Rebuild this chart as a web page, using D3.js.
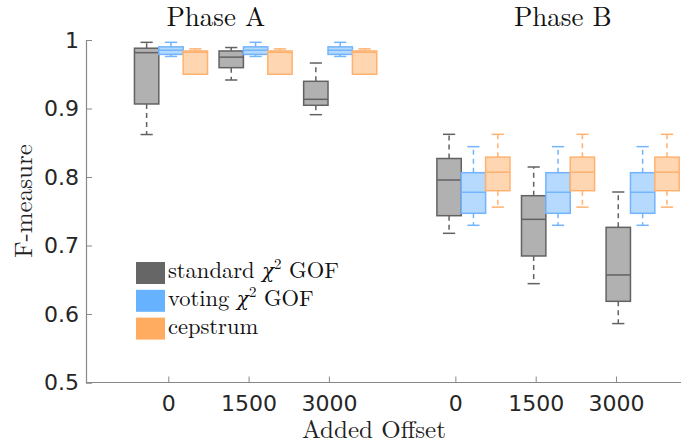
<!DOCTYPE html>
<html>
<head>
<meta charset="utf-8">
<script src="https://cdn.jsdelivr.net/npm/d3@7"></script>
<style>
  body { margin: 0; background: #fff; }
</style>
</head>
<body>
<script>
// five-number summaries: [lower whisker, q1, median, q3, upper whisker]
const phases = ['Phase A', 'Phase B'];
const offsets = ['0', '1500', '3000'];
const groupPos = [1, 2, 3, 4.575, 5.575, 6.575];
const methods = ['standard', 'voting', 'cepstrum'];
const standardStats = [
	[0.862, 0.9066, 0.9815, 0.988, 0.9966],
	[0.9416, 0.9596, 0.975, 0.984, 0.989],
	[0.891, 0.9047, 0.9134, 0.9397, 0.9664],
	[0.7178, 0.7435, 0.7956, 0.827, 0.8623],
	[0.6443, 0.6847, 0.7382, 0.7727, 0.8146],
	[0.586, 0.6185, 0.657, 0.7265, 0.7781]
];
const votingStats = [
	[0.976, 0.979, 0.985, 0.99, 0.9966],
	[0.976, 0.979, 0.985, 0.99, 0.9966],
	[0.976, 0.979, 0.985, 0.99, 0.9966],
	[0.7295, 0.747, 0.7777, 0.8063, 0.8443],
	[0.7295, 0.747, 0.7777, 0.8063, 0.8443],
	[0.7295, 0.747, 0.7777, 0.8063, 0.8443]
];
const cepstrumStats = [
	[0.95, 0.95, 0.982, 0.984, 0.987],
	[0.95, 0.95, 0.982, 0.984, 0.987],
	[0.95, 0.95, 0.982, 0.984, 0.987],
	[0.756, 0.78, 0.807, 0.829, 0.8623],
	[0.756, 0.78, 0.807, 0.829, 0.8623],
	[0.756, 0.78, 0.807, 0.829, 0.8623]
];
const yTicks = [0.5, 0.6, 0.7, 0.8, 0.9, 1];

const width = 681;
const height = 443;
const serif = 'Latin Modern Roman';
const sans = 'DejaVu Sans';

const colors = {
	standard: { fill: '#b1b1b1', stroke: '#626262', legend: '#666666' },
	voting: { fill: '#b6d9fe', stroke: '#72b4fd', legend: '#66b2ff' },
	cepstrum: { fill: '#ffd6b2', stroke: '#ffb26f', legend: '#ffab60' }
};
const legendLabels = {
	standard: ['standard ', 'χ', '2', ' GOF'],
	voting: ['voting ', 'χ', '2', ' GOF'],
	cepstrum: ['cepstrum']
};

const svg = d3.select('body').append('svg').attr('width', width).attr('height', height);

const yScale = d3.scaleLinear().domain([0.5, 1]).range([382.5, 40]);
const xScale = d3.scaleLinear().domain([0, 7]).range([86.4, 678.6]);
const tickScale = d3.scaleLinear().domain([0, 7]).range([88, 650.1]);
const boxW = xScale(0.288) - xScale(0);

// axes
const yAxis = d3.axisLeft(yScale).tickValues(yTicks).tickFormat((d) => d3.format('')(d)).tickSize(-6).tickPadding(7);
const gy = svg.append('g').attr('transform', 'translate(86,0)').call(yAxis)
	.attr('font-family', sans).attr('font-size', 22);
gy.select('.domain').attr('stroke', '#888').attr('stroke-width', 1.2);
gy.selectAll('.tick line').attr('stroke', '#888');
gy.selectAll('.tick text').attr('fill', '#262626');

const xAxis = d3.axisBottom(tickScale).tickValues(groupPos)
	.tickFormat((d, i) => offsets[i % 3]).tickSize(-6).tickPadding(13);
const gx = svg.append('g').attr('transform', 'translate(0,382.5)').call(xAxis)
	.attr('font-family', sans).attr('font-size', 22);
gx.select('.domain').attr('d', `M86,0H${width}`).attr('stroke', '#888').attr('stroke-width', 1.2);
gx.selectAll('.tick line').attr('stroke', '#888');
gx.selectAll('.tick text').attr('fill', '#262626');

// boxes
const allStats = { standard: standardStats, voting: votingStats, cepstrum: cepstrumStats };
methods.forEach((m, mi) => {
	const g = svg.append('g').attr('class', 'boxes-' + m);
	const c = colors[m];
	allStats[m].forEach((s, gi) => {
		const cx = xScale(groupPos[gi]) + (mi - 1) * boxW;
		const [lo, q1, med, q3, hi] = s;
		const capW = boxW * 0.5;
		// whiskers
		g.append('line').attr('x1', cx).attr('x2', cx).attr('y1', yScale(q3)).attr('y2', yScale(hi))
			.attr('stroke', c.stroke).attr('stroke-width', 1.5).attr('stroke-dasharray', '5,4');
		g.append('line').attr('x1', cx).attr('x2', cx).attr('y1', yScale(q1)).attr('y2', yScale(lo))
			.attr('stroke', c.stroke).attr('stroke-width', 1.5).attr('stroke-dasharray', '5,4');
		[lo, hi].forEach((v) => {
			g.append('line').attr('x1', cx - capW / 2).attr('x2', cx + capW / 2)
				.attr('y1', yScale(v)).attr('y2', yScale(v))
				.attr('stroke', c.stroke).attr('stroke-width', 1.5);
		});
		g.append('rect').attr('x', cx - boxW / 2).attr('y', yScale(q3))
			.attr('width', boxW).attr('height', yScale(q1) - yScale(q3))
			.attr('fill', c.fill).attr('stroke', c.stroke).attr('stroke-width', 1.5);
		g.append('line').attr('x1', cx - boxW / 2).attr('x2', cx + boxW / 2)
			.attr('y1', yScale(med)).attr('y2', yScale(med))
			.attr('stroke', c.stroke).attr('stroke-width', 1.5);
	});
});

// phase titles
svg.selectAll('.phase').data(phases).enter().append('text')
	.attr('x', (d, i) => xScale(i === 0 ? 1.53 : 5.63))
	.attr('y', 26)
	.attr('text-anchor', 'middle')
	.attr('font-family', serif)
	.attr('font-size', 27)
	.attr('fill', '#111')
	.text((d) => d);

// axis titles
svg.append('text').attr('x', 374).attr('y', 438).attr('text-anchor', 'middle')
	.attr('font-family', serif).attr('font-size', 25).attr('fill', '#222').text('Added Offset');
svg.append('text').attr('transform', 'translate(32,201) rotate(-90)').attr('text-anchor', 'middle')
	.attr('font-family', serif).attr('font-size', 25).attr('fill', '#222').text('F-measure');

// legend
const legend = svg.append('g').attr('transform', 'translate(136,262)');
methods.forEach((m, i) => {
	const row = legend.append('g').attr('transform', `translate(0,${i * 27.8})`);
	row.append('rect').attr('width', 29).attr('height', 22).attr('fill', colors[m].legend);
	const t = row.append('text').attr('x', 32).attr('y', 16)
		.attr('font-family', serif).attr('font-size', 22.5).attr('fill', '#111');
	const parts = legendLabels[m];
	t.append('tspan').text(parts[0]);
	if (parts.length > 1) {
		t.append('tspan').attr('font-family', 'DejaVu Serif').attr('font-style', 'italic').attr('font-size', 20).text(parts[1]);
		t.append('tspan').attr('dy', -9).attr('font-size', 15).text(parts[2]);
		t.append('tspan').attr('dy', 9).text(parts[3]);
	}
});
</script>
</body>
</html>
